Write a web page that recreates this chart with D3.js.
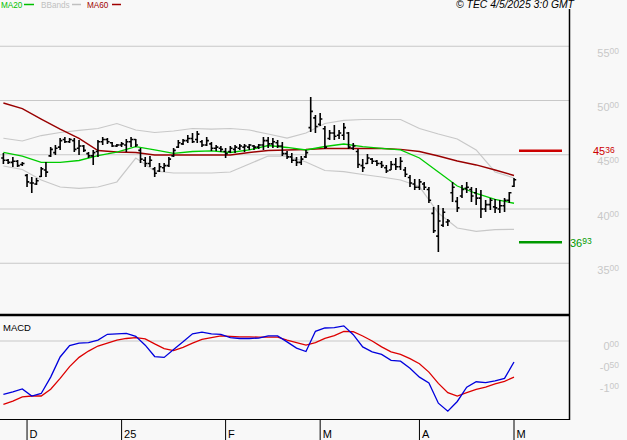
<!DOCTYPE html>
<html>
<head>
<meta charset="utf-8">
<script src="https://cdn.jsdelivr.net/npm/d3@7"></script>
<style>
  body { margin: 0; background: #f8f8f8; }
  svg { display: block; font-family: "Liberation Sans", Arial, sans-serif; }
</style>
</head>
<body>
<script>
// daily bars, Nov 25 2024 -> May 2 2025 (one entry per trading day)
var opens = [44.7, 44.5, 44.3, 44.4, 44.1, 43.1, 42.4, 42.3, 43.0, 43.6,
  44.9, 45.2, 45.7, 46.4, 46.2, 46.3, 45.6, 45.8, 45.1, 44.9,
  45.3, 46.2, 46.4, 46.1, 45.8, 45.9, 45.9, 46.2, 46.4, 45.4,
  44.5, 44.2, 43.7, 43.5, 43.8, 44.0, 44.9, 45.7, 46.0, 46.3,
  46.5, 46.4, 46.2, 45.9, 46.0, 45.6, 45.6, 45.3, 45.3, 45.5,
  45.6, 45.7, 45.7, 45.8, 45.7, 45.9, 46.3, 46.0, 46.1, 45.8,
  45.1, 44.8, 44.5, 44.3, 44.8, 47.5, 48.4, 47.8, 47.4, 46.5,
  47.0, 46.8, 46.8, 47.0, 45.6, 45.3, 44.0, 44.2, 44.6, 44.4,
  44.2, 43.8, 43.6, 44.1, 43.9, 43.6, 42.9, 42.3, 42.0, 42.3,
  41.8, 39.6, 37.5, 38.5, 38.8, 41.5, 40.7, 41.2, 41.9, 41.8,
  41.5, 41.0, 40.0, 40.4, 40.2, 40.0, 40.3, 40.8, 42.1];
var highs = [45.16, 44.61, 44.79, 44.52, 44.33, 43.23, 42.95, 42.86, 43.87, 44.33,
  45.71, 45.90, 46.54, 46.64, 46.54, 46.54, 46.36, 45.90, 45.25, 45.44,
  46.36, 46.64, 46.54, 46.18, 45.99, 46.18, 46.45, 46.64, 46.45, 45.62,
  44.79, 44.88, 43.87, 44.24, 44.24, 44.79, 45.62, 46.36, 46.45, 46.82,
  47.00, 47.19, 46.36, 46.64, 46.18, 45.90, 45.81, 45.62, 45.81, 45.90,
  45.99, 45.99, 45.99, 45.90, 45.99, 46.64, 46.64, 46.54, 46.36, 46.18,
  45.35, 45.16, 44.79, 44.88, 45.44, 50.32, 48.66, 48.85, 47.65, 47.28,
  47.74, 47.28, 47.93, 47.10, 46.08, 45.53, 44.61, 45.07, 44.70, 44.52,
  44.42, 44.06, 44.42, 44.70, 44.79, 43.87, 43.13, 42.76, 42.76, 42.49,
  42.03, 40.18, 40.37, 40.09, 39.08, 42.49, 41.11, 42.21, 42.49, 42.03,
  41.94, 41.75, 40.83, 41.01, 40.92, 40.83, 41.01, 41.57, 42.86];
var lows = [44.15, 44.15, 43.87, 43.87, 43.96, 42.03, 41.47, 42.21, 42.95, 42.95,
  44.79, 44.98, 45.44, 46.08, 46.08, 45.25, 44.98, 45.25, 44.70, 44.06,
  44.79, 45.90, 45.99, 45.71, 45.71, 45.71, 45.25, 45.71, 45.71, 44.24,
  43.87, 43.87, 42.95, 43.41, 43.41, 43.87, 44.79, 45.62, 45.90, 46.08,
  46.08, 46.08, 45.71, 45.81, 45.35, 45.35, 45.25, 44.70, 45.16, 45.16,
  45.44, 45.25, 45.44, 45.44, 45.53, 45.44, 45.62, 45.62, 45.62, 44.88,
  44.61, 44.24, 43.96, 44.06, 44.70, 47.10, 47.00, 47.65, 45.53, 46.36,
  46.36, 46.45, 46.36, 45.53, 45.44, 43.78, 43.41, 44.15, 44.15, 43.96,
  43.78, 43.32, 43.59, 43.59, 43.59, 42.95, 42.03, 41.75, 41.75, 41.75,
  40.55, 37.79, 36.04, 38.34, 38.43, 40.65, 39.72, 41.01, 41.47, 40.65,
  40.37, 39.17, 39.72, 39.91, 39.63, 39.63, 39.72, 40.55, 42.03];
var closes = [44.5, 44.3, 44.4, 44.0, 44.2, 42.5, 42.4, 42.6, 43.7, 43.4,
  45.5, 45.6, 46.3, 46.2, 46.4, 45.5, 45.8, 45.4, 44.9, 45.2,
  46.2, 46.4, 46.2, 45.8, 45.9, 46.0, 46.2, 46.4, 45.9, 44.6,
  44.2, 44.5, 43.3, 43.9, 44.0, 44.6, 45.4, 46.1, 46.3, 46.5,
  46.2, 46.9, 45.9, 46.3, 45.6, 45.7, 45.5, 45.1, 45.6, 45.7,
  45.8, 45.8, 45.9, 45.7, 45.9, 46.3, 46.0, 46.2, 45.8, 45.1,
  44.8, 44.5, 44.3, 44.6, 45.2, 49.0, 47.6, 48.3, 45.7, 47.0,
  46.7, 47.0, 47.5, 45.7, 45.8, 44.1, 43.8, 44.7, 44.4, 44.2,
  44.0, 43.5, 44.1, 43.9, 44.4, 43.2, 42.4, 42.0, 42.5, 42.0,
  40.8, 38.0, 38.9, 39.7, 38.9, 42.0, 40.1, 41.8, 42.0, 41.2,
  41.0, 40.0, 40.4, 40.8, 40.1, 40.3, 40.8, 41.5, 42.7];

// overlays read every 4th bar
var ma20 = [45.21, 44.88, 44.29, 44.29, 44.47, 44.93, 45.25, 45.74, 45.44, 45.13,
  45.30, 45.35, 45.21, 45.44, 45.85, 45.67, 45.44, 45.76, 45.99, 45.74,
  45.58, 45.44, 44.70, 43.41, 42.12, 41.43, 40.88, 40.53];
var ma60 = [49.77, 49.25, 48.29, 47.37, 46.50, 45.39, 45.25, 45.21, 44.98, 44.98,
  44.98, 44.98, 44.98, 45.21, 45.39, 45.44, 45.48, 45.58, 45.58, 45.58,
  45.58, 45.50, 45.30, 44.88, 44.42, 44.06, 43.59, 43.09];
var bbUp = [46.52, 46.27, 46.77, 47.05, 47.24, 47.42, 47.88, 47.28, 47.05, 47.19,
  47.42, 47.37, 47.42, 47.28, 46.91, 46.54, 47.00, 47.88, 48.16, 48.25,
  48.25, 48.25, 47.42, 46.91, 46.45, 45.44, 43.41, 42.86];
var bbLow = [43.96, 43.64, 42.67, 42.03, 41.91, 42.03, 42.49, 44.70, 43.50, 43.32,
  43.32, 43.32, 43.41, 44.15, 44.88, 44.88, 44.33, 43.55, 43.44, 43.18,
  42.95, 42.67, 42.07, 39.63, 38.25, 37.94, 38.09, 38.13];

// MACD read every 2nd bar
var macdLine = [-1.27, -1.21, -1.14, -1.31, -1.25, -0.86, -0.38, -0.11, -0.05, -0.04,
  0.02, 0.16, 0.17, 0.18, 0.11, -0.10, -0.37, -0.39, -0.20, -0.02,
  0.17, 0.21, 0.17, 0.16, 0.08, 0.06, 0.06, 0.07, 0.12, 0.12,
  -0.02, -0.17, -0.25, 0.23, 0.31, 0.32, 0.36, 0.15, -0.14, -0.26,
  -0.32, -0.46, -0.48, -0.65, -0.86, -1.00, -1.48, -1.67, -1.44, -1.10,
  -0.97, -0.99, -0.95, -0.89, -0.50];
var signalLine = [-1.51, -1.43, -1.33, -1.31, -1.31, -1.15, -0.89, -0.61, -0.39, -0.24,
  -0.12, -0.05, 0.02, 0.06, 0.08, 0.05, -0.07, -0.18, -0.23, -0.15,
  -0.05, 0.04, 0.08, 0.12, 0.11, 0.10, 0.10, 0.09, 0.09, 0.09,
  0.02, -0.04, -0.10, -0.04, 0.06, 0.13, 0.23, 0.22, 0.12, 0.00,
  -0.14, -0.26, -0.32, -0.42, -0.54, -0.74, -1.01, -1.23, -1.31, -1.23,
  -1.15, -1.10, -1.02, -0.96, -0.86];

var priceTicks = [35, 40, 45, 50, 55];
var macdTicks = [0, -0.5, -1];
var monthIdx = [5, 25, 47, 67, 88, 108];
var monthLabels = ["D", "25", "F", "M", "A", "M"];
var resistance = 45.36, support = 36.93;

var W = 627, H = 440, plotRight = 569;

var svg = d3.select("body").append("svg")
  .attr("width", W).attr("height", H);
svg.append("rect").attr("width", W).attr("height", H).attr("fill", "#f8f8f8");

var x = d3.scaleLinear().domain([0, 108]).range([3.4, 514]);
var y = d3.scaleLinear().domain([35, 55]).range([263.25, 46.25]);
var ym = d3.scaleLinear().domain([-1, 0]).range([383, 341]);

// big integer part + small raised decimals, like "55" "00"
function splitLabel(xp, yp, v, color, anchor) {
  var parts = v.toFixed(2).split(".");
  var t = svg.append("text")
    .attr("x", xp).attr("y", yp)
    .attr("fill", color)
    .attr("text-anchor", anchor);
  t.append("tspan").attr("font-size", 11).text(parts[0]);
  t.append("tspan").attr("font-size", 8.5).attr("dy", -2.6).text(parts[1]);
}

// price grid
priceTicks.forEach(function(p) {
  svg.append("line")
    .attr("x1", 0).attr("x2", plotRight)
    .attr("y1", y(p)).attr("y2", y(p))
    .attr("stroke", "#c8c8c8").attr("stroke-width", 1);
  splitLabel(619, y(p) + 10.5, p, "#c8c8c8", "end");
});

var idx4 = d3.range(0, 109, 4);
var idx2 = d3.range(0, 109, 2);

function overlay(vals, idx, scale, color, w) {
  var line = d3.line()
    .x(function(d, i) { return x(idx[i]); })
    .y(function(d) { return scale(d); });
  svg.append("path")
    .datum(vals)
    .attr("fill", "none")
    .attr("stroke", color)
    .attr("stroke-width", w)
    .attr("d", line);
}

overlay(bbUp, idx4, y, "#c8c8c8", 1.2);
overlay(bbLow, idx4, y, "#c8c8c8", 1.2);
overlay(ma60, idx4, y, "#990000", 1.4);
overlay(ma20, idx4, y, "#00cc00", 1.3);

// OHLC bars
svg.append("g").selectAll("path")
  .data(d3.range(opens.length))
  .enter().append("path")
  .attr("fill", "none")
  .attr("stroke", "#000")
  .attr("stroke-width", 1.6)
  .attr("d", function(i) {
    var cx = x(i);
    return "M" + cx + "," + y(highs[i]) + "V" + y(lows[i]) +
      "M" + (cx - 2.2) + "," + y(opens[i]) + "H" + cx +
      "M" + cx + "," + y(closes[i]) + "H" + (cx + 2.2);
  });

// support / resistance levels
svg.append("line")
  .attr("x1", 519).attr("x2", 562)
  .attr("y1", y(resistance)).attr("y2", y(resistance))
  .attr("stroke", "#cc0000").attr("stroke-width", 2.5);
svg.append("line")
  .attr("x1", 519).attr("x2", 562)
  .attr("y1", y(support)).attr("y2", y(support))
  .attr("stroke", "#009900").attr("stroke-width", 2.5);
splitLabel(593, y(resistance) + 4.3, resistance, "#cc0000", "start");
splitLabel(570, y(support) + 4.3, support, "#009900", "start");

// MACD panel
svg.append("line")
  .attr("x1", 0).attr("x2", plotRight)
  .attr("y1", ym(0)).attr("y2", ym(0))
  .attr("stroke", "#c8c8c8");
macdTicks.forEach(function(v) {
  splitLabel(619, ym(v) + 9, v, "#c8c8c8", "end");
});
overlay(signalLine, idx2, ym, "#dd0000", 1.3);
overlay(macdLine, idx2, ym, "#0000dd", 1.3);

svg.append("text")
  .attr("x", 3).attr("y", 331)
  .attr("font-size", 9.5)
  .text("MACD");

// frame
svg.append("line")
  .attr("x1", plotRight + 0.5).attr("x2", plotRight + 0.5)
  .attr("y1", 9).attr("y2", 420)
  .attr("stroke", "#000").attr("stroke-width", 1.5);
svg.append("line")
  .attr("x1", 0).attr("x2", plotRight)
  .attr("y1", 315).attr("y2", 315)
  .attr("stroke", "#000").attr("stroke-width", 2.5);
svg.append("line")
  .attr("x1", 0).attr("x2", plotRight + 1)
  .attr("y1", 419.5).attr("y2", 419.5)
  .attr("stroke", "#000").attr("stroke-width", 1.2);

// month ticks
monthIdx.forEach(function(m, k) {
  svg.append("line")
    .attr("x1", x(m)).attr("x2", x(m))
    .attr("y1", 419).attr("y2", 440)
    .attr("stroke", "#000");
  svg.append("text")
    .attr("x", x(m) + 2.5).attr("y", 438)
    .attr("font-size", 11)
    .text(monthLabels[k]);
});

// legend
var legend = [
  { name: "MA20", color: "#00c000", x: 1, dash: [24, 34] },
  { name: "BBands", color: "#c0c0c0", x: 41, dash: [72, 81] },
  { name: "MA60", color: "#a00000", x: 87, dash: [112, 121] }
];
legend.forEach(function(l) {
  svg.append("text")
    .attr("x", l.x).attr("y", 7.6)
    .attr("font-size", 8.2)
    .attr("fill", l.color)
    .text(l.name);
  svg.append("line")
    .attr("x1", l.dash[0]).attr("x2", l.dash[1])
    .attr("y1", 4.5).attr("y2", 4.5)
    .attr("stroke", l.color).attr("stroke-width", 1.5);
});

svg.append("text")
  .attr("x", 456).attr("y", 8.3)
  .attr("font-size", 10.4)
  .attr("font-style", "italic")
  .text("\u00a9 TEC 4/5/2025 3:0 GMT");
</script>
</body>
</html>
